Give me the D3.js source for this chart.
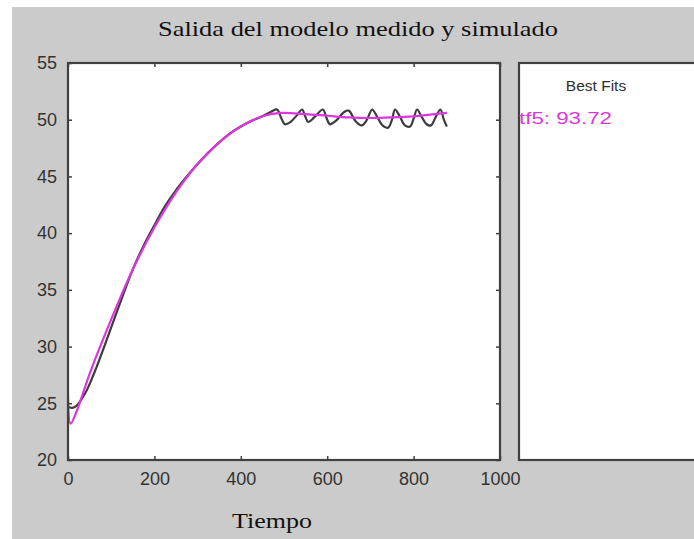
<!DOCTYPE html>
<html><head><meta charset="utf-8">
<script src="https://cdn.jsdelivr.net/npm/d3@7"></script>
<style>body{margin:0;background:#fff}svg{display:block}</style>
</head><body>
<script>
// ---- data ----
const measuredT = [0,10,20,40,60,80,100,125,150,175,200,225,250,275,300,325,350,375,400,425,450,470,484,493,502,515,530,542,549,556,570,590,598,606,620,640,650,665,680,692,704,715,728,741,750,757,768,780,792,800,808,818,830,840,852,862,870,877];
const measuredY = [24.7,24.6,24.8,25.9,27.6,29.6,31.7,34.3,36.8,38.9,40.7,42.4,43.8,45.0,46.1,47.1,48.0,48.8,49.4,49.9,50.3,50.7,50.9,50.2,49.6,49.8,50.4,50.9,50.3,49.8,50.2,50.9,50.2,49.6,49.9,50.7,50.8,49.9,49.5,50.0,50.9,50.3,49.5,49.3,50.0,50.9,50.3,49.5,49.4,50.1,50.9,50.3,49.6,49.5,50.3,50.9,50.0,49.4];
const modelT = [0,6,20,50,100,150,200,250,300,350,400,450,490,550,600,650,700,750,800,850,877];
const modelY = [25.8,23.2,24.3,27.6,32.4,36.8,40.5,43.6,46.1,48.0,49.4,50.3,50.6,50.5,50.35,50.2,50.15,50.2,50.3,50.5,50.6];
const xTicks = [0,200,400,600,800,1000];
const yTicks = [20,25,30,35,40,45,50,55];
const titleText = "Salida del modelo medido y simulado";
const xLabel = "Tiempo";
const legendTitle = "Best Fits";
const legendEntry = "tf5: 93.72";

const W = 694, H = 539;
const svg = d3.select("body").append("svg").attr("width", W).attr("height", H);
svg.append("rect").attr("x",12).attr("y",7).attr("width",W-12).attr("height",H-7).attr("fill","#cbcbcb");

const x = d3.scaleLinear().domain([0,1000]).range([68,500]);
const y = d3.scaleLinear().domain([20,55]).range([460,63]);
const axisCol = "#404040";

// plot area
svg.append("rect").attr("x",x(0)).attr("y",y(55)).attr("width",x(1000)-x(0)).attr("height",y(20)-y(55)).attr("fill","#fff");

// title
svg.append("text").attr("x",358).attr("y",36).attr("text-anchor","middle")
  .attr("font-family","'Liberation Serif','Times New Roman',serif").attr("font-size",22)
  .attr("textLength",400).attr("lengthAdjust","spacingAndGlyphs")
  .attr("fill","#111").text(titleText);

// lines
const lineGen = d3.line().x(d=>x(d[0])).y(d=>y(d[1])).curve(d3.curveCatmullRom.alpha(0.5));
const meas = measuredT.map((t,i)=>[t,measuredY[i]]);
const mod = modelT.map((t,i)=>[t,modelY[i]]);
svg.append("clipPath").attr("id","c").append("rect").attr("x",x(0)).attr("y",y(55)).attr("width",x(1000)-x(0)).attr("height",y(20)-y(55));
const g = svg.append("g").attr("clip-path","url(#c)");
g.append("path").datum(meas).attr("d",lineGen).attr("fill","none").attr("stroke","#3c3c3c").attr("stroke-width",2.2);
g.append("path").datum(mod).attr("d",lineGen).attr("fill","none").attr("stroke","#dc36dc").attr("stroke-width",2.2);

// axes
const fs = 18;
const ax = svg.append("g").attr("transform",`translate(0,${y(20)})`)
  .call(d3.axisBottom(x).tickValues(xTicks).tickSizeInner(-4).tickSizeOuter(0).tickPadding(12).tickFormat(d3.format("d")));
const ay = svg.append("g").attr("transform",`translate(${x(0)},0)`)
  .call(d3.axisLeft(y).tickValues(yTicks).tickSizeInner(-4).tickSizeOuter(0).tickPadding(11).tickFormat(d3.format("d")));
const at = svg.append("g").attr("transform",`translate(0,${y(55)})`)
  .call(d3.axisTop(x).tickValues(xTicks).tickSizeInner(-4).tickSizeOuter(0).tickFormat(""));
const ar = svg.append("g").attr("transform",`translate(${x(1000)},0)`)
  .call(d3.axisRight(y).tickValues(yTicks).tickSizeInner(-4).tickSizeOuter(0).tickFormat(""));
[ax,ay,at,ar].forEach(a=>{
  a.select(".domain").remove();
  a.selectAll("line").attr("stroke",axisCol).attr("stroke-width",1.5);
  a.selectAll("text").attr("fill","#333").attr("font-family","'Liberation Sans',Arial,sans-serif").attr("font-size",fs);
});
// frame
svg.append("rect").attr("x",x(0)).attr("y",y(55)).attr("width",x(1000)-x(0)).attr("height",y(20)-y(55))
  .attr("fill","none").attr("stroke",axisCol).attr("stroke-width",2.2);

// x label
svg.append("text").attr("x",272).attr("y",528).attr("text-anchor","middle")
  .attr("font-family","'Liberation Serif','Times New Roman',serif").attr("font-size",21)
  .attr("textLength",80).attr("lengthAdjust","spacingAndGlyphs").attr("fill","#111").text(xLabel);

// right panel
svg.append("rect").attr("x",519).attr("y",y(55)).attr("width",W-519+5).attr("height",y(20)-y(55))
  .attr("fill","#fff").attr("stroke",axisCol).attr("stroke-width",2.2);
svg.append("text").attr("x",596).attr("y",91).attr("text-anchor","middle")
  .attr("font-family","'Liberation Sans',Arial,sans-serif").attr("font-size",15.5).attr("fill","#2e2e2e").text(legendTitle);
svg.append("text").attr("x",519).attr("y",124)
  .attr("font-family","'Liberation Sans',Arial,sans-serif").attr("font-size",16)
  .attr("textLength",93).attr("lengthAdjust","spacingAndGlyphs").attr("fill","#d83ad8").text(legendEntry);
</script>
</body></html>
